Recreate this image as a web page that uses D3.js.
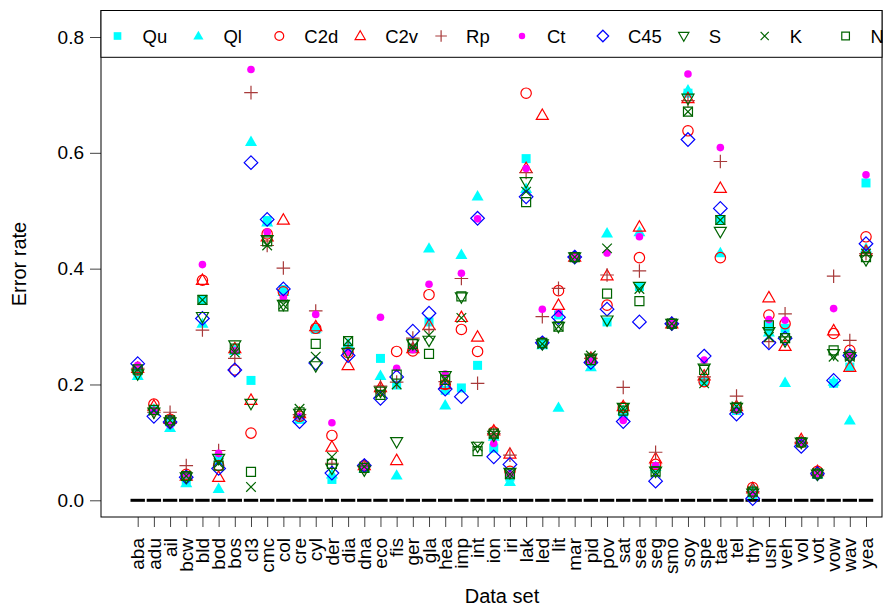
<!DOCTYPE html>
<html>
<head>
<meta charset="utf-8">
<script src="https://cdn.jsdelivr.net/npm/d3@7"></script>
<style>
  body { margin: 0; background: #fff; }
  text { font-family: "Liberation Sans", Arial, Helvetica, sans-serif; }
</style>
</head>
<body>
<div id="chart"></div>
<script>
var svgWidth = 894;
var svgHeight = 607;

// data sets on the x axis
var dataSets = ["aba","adu","ail","bcw","bld","bod","bos","cl3","cmc","col","cre","cyl","der","dia","dna",
  "eco","fis","ger","gla","hea","imp","int","ion","iri","lak","led","lit","mar","pid","pov","sat","sea",
  "seg","smo","soy","spe","tae","tel","thy","usn","veh","vol","vot","vow","wav","yea"];

var yTicks = [0.0, 0.2, 0.4, 0.6, 0.8];

// error rates, one array per method (same order as dataSets)
var Qu  = [.222,.155,.135,.035,.345,.070,.260,.207,.483,.364,.140,.295,.036,.262,.057,.245,.199,.262,.308,.190,.194,.233,.090,.040,.590,.270,.320,.420,.240,.308,.150,.369,.055,.305,.703,.205,.484,.155,.010,.300,.297,.100,.046,.202,.230,.548];
var Ql  = [.215,.157,.125,.030,.305,.020,.258,.619,.480,.360,.140,.297,.045,.270,.055,.215,.043,.265,.435,.164,.424,.525,.110,.032,.538,.268,.160,.420,.230,.461,.155,.463,.058,.305,.708,.210,.427,.158,.022,.290,.203,.100,.045,.205,.138,.435];
var C2d = [.225,.166,.140,.045,.380,.060,.225,.116,.460,.360,.145,.297,.112,.255,.060,.190,.257,.258,.355,.200,.295,.257,.118,.050,.703,.272,.362,.420,.245,.337,.160,.419,.062,.305,.638,.205,.419,.160,.022,.320,.305,.100,.050,.288,.259,.455];
var C2v = [.228,.163,.140,.042,.380,.040,.262,.173,.455,.484,.150,.300,.092,.233,.060,.195,.069,.262,.302,.200,.316,.282,.120,.080,.573,.665,.337,.420,.245,.388,.162,.472,.072,.305,.694,.215,.539,.162,.020,.350,.266,.105,.050,.293,.230,.430];
var Rp  = [.228,.152,.152,.060,.294,.086,.245,.704,.440,.401,.148,.327,.064,.262,.058,.197,.204,.280,.295,.205,.383,.202,.115,.078,.566,.317,.366,.420,.245,.389,.195,.396,.083,.305,.690,.213,.585,.180,.015,.274,.322,.100,.048,.387,.276,.426];
var Ct  = [.233,.155,.130,.045,.407,.081,.258,.744,.463,.350,.145,.321,.134,.255,.058,.316,.228,.260,.373,.218,.392,.486,.098,.045,.573,.330,.323,.420,.240,.427,.138,.455,.060,.305,.736,.242,.609,.155,.010,.312,.311,.100,.046,.331,.250,.562];
var C45 = [.236,.145,.135,.040,.314,.055,.225,.583,.485,.365,.136,.237,.047,.250,.060,.176,.213,.292,.323,.192,.179,.487,.075,.062,.524,.272,.316,.420,.238,.330,.136,.308,.033,.305,.623,.249,.504,.149,.003,.272,.280,.093,.046,.207,.250,.443];
var S   = [.218,.152,.135,.040,.317,.072,.268,.167,.450,.338,.150,.232,.055,.255,.052,.188,.101,.270,.276,.215,.351,.093,.112,.048,.550,.270,.300,.420,.245,.311,.160,.369,.050,.305,.694,.228,.464,.160,.012,.291,.275,.100,.045,.253,.248,.415];
var K   = [.226,.155,.138,.042,.346,.064,.255,.023,.440,.338,.158,.248,.075,.275,.058,.185,.200,.265,.285,.210,.315,.093,.115,.045,.533,.270,.300,.420,.250,.435,.158,.365,.048,.305,.671,.202,.484,.162,.015,.282,.280,.100,.047,.248,.248,.426];
var N   = [.226,.156,.138,.042,.346,.060,.262,.049,.447,.335,.152,.270,.063,.275,.056,.182,.217,.270,.253,.208,.352,.085,.115,.045,.515,.272,.300,.420,.242,.357,.155,.344,.050,.305,.671,.225,.484,.160,.015,.302,.280,.100,.046,.259,.250,.420];

var methodNames = ["Qu","Ql","C2d","C2v","Rp","Ct","C45","S","K","N"];
var methodValues = [Qu, Ql, C2d, C2v, Rp, Ct, C45, S, K, N];

// marker style for each method (R pch look-alikes)
var styles = {
  Qu:  {shape: "square",   color: "#00ffff", fill: true},
  Ql:  {shape: "triangle", color: "#00ffff", fill: true},
  C2d: {shape: "circle",   color: "#ff0000", fill: false},
  C2v: {shape: "triangle", color: "#ff0000", fill: false},
  Rp:  {shape: "plus",     color: "#a83a3a", fill: false},
  Ct:  {shape: "dot",      color: "#ff00ff", fill: true},
  C45: {shape: "diamond",  color: "#0000ff", fill: false},
  S:   {shape: "invtri",   color: "#006400", fill: false},
  K:   {shape: "cross",    color: "#006400", fill: false},
  N:   {shape: "square",   color: "#006400", fill: false}
};

function shapePath(shape, s) {
  // s = scale factor
  if (shape == "square") {
    var h = 4.5 * s;
    return `M${-h},${-h}H${h}V${h}H${-h}Z`;
  }
  if (shape == "triangle") {
    var w = 6 * s;
    return `M0,${-6.2*s}L${w},${4.2*s}L${-w},${4.2*s}Z`;
  }
  if (shape == "invtri") {
    var w = 6 * s;
    return `M0,${6.2*s}L${w},${-4.2*s}L${-w},${-4.2*s}Z`;
  }
  if (shape == "circle") {
    var r = 5.2 * s;
    return `M${r},0A${r},${r} 0 1,1 ${-r},0A${r},${r} 0 1,1 ${r},0Z`;
  }
  if (shape == "dot") {
    var r = 3.8 * s;
    return `M${r},0A${r},${r} 0 1,1 ${-r},0A${r},${r} 0 1,1 ${r},0Z`;
  }
  if (shape == "diamond") {
    var d = 6.8 * s;
    return `M0,${-d}L${d},0L0,${d}L${-d},0Z`;
  }
  if (shape == "plus") {
    var a = 6.8 * s;
    return `M${-a},0H${a}M0,${-a}V${a}`;
  }
  if (shape == "cross") {
    var a = 4.8 * s;
    return `M${-a},${-a}L${a},${a}M${-a},${a}L${a},${-a}`;
  }
}

var svg = d3.select("#chart")
  .append("svg")
  .attr("width", svgWidth)
  .attr("height", svgHeight);

var box = {left: 101, right: 882, top: 10.5, bottom: 517};

var xScale = d3.scalePoint()
  .domain(dataSets)
  .range([137.7, 866]);

var yScale = d3.scaleLinear()
  .domain([0, 0.8])
  .range([500.3, 37]);

// y axis (R style: ticks outside, labels horizontal)
var yAxis = d3.axisLeft(yScale)
  .tickValues(yTicks)
  .tickFormat(d3.format(".1f"))
  .tickSize(11)
  .tickPadding(6);

svg.append("g")
  .attr("transform", `translate(${box.left}, 0)`)
  .call(yAxis)
  .call(g => g.select(".domain").remove())
  .call(g => g.selectAll("line").attr("stroke", "#444"))
  .call(g => g.selectAll("text").attr("font-size", 19).attr("fill", "#000")
    .attr("font-family", "Liberation Sans, Arial, sans-serif"));

// x axis, labels rotated
var xAxis = d3.axisBottom(xScale)
  .tickSize(10)
  .tickPadding(0);

var xg = svg.append("g")
  .attr("transform", `translate(0, ${box.bottom})`)
  .call(xAxis)
  .call(g => g.select(".domain").remove())
  .call(g => g.selectAll("line").attr("stroke", "#444"));

xg.selectAll("text")
  .attr("font-size", 19)
  .attr("fill", "#000")
  .attr("font-family", "Liberation Sans, Arial, sans-serif")
  .attr("text-anchor", "end")
  .attr("dy", "0.35em")
  .attr("y", 0)
  .attr("transform", d => `translate(${-0.5}, 21) rotate(-90)`);

// zero reference dashes, one per data set
svg.append("g")
  .selectAll("line")
  .data(dataSets)
  .enter()
  .append("line")
  .attr("x1", d => xScale(d) - 7.2)
  .attr("x2", d => xScale(d) + 7.2)
  .attr("y1", yScale(0))
  .attr("y2", yScale(0))
  .attr("stroke", "#000")
  .attr("stroke-width", 3);

// the points, one group per method
methodNames.forEach(function(name, i) {
  var st = styles[name];
  var vals = methodValues[i];
  svg.append("g")
    .attr("class", "series-" + name)
    .selectAll("path")
    .data(dataSets)
    .enter()
    .append("path")
    .attr("transform", (d, j) => `translate(${xScale(d)}, ${yScale(vals[j])})`)
    .attr("d", shapePath(st.shape, 1))
    .attr("fill", st.fill ? st.color : "none")
    .attr("stroke", st.fill ? "none" : st.color)
    .attr("stroke-width", 1.2);
});

// plot box
svg.append("rect")
  .attr("x", box.left)
  .attr("y", box.top)
  .attr("width", box.right - box.left)
  .attr("height", box.bottom - box.top)
  .attr("fill", "none")
  .attr("stroke", "#000")
  .attr("stroke-width", 1);

// legend across the top
var legend = svg.append("g");
legend.append("rect")
  .attr("x", box.left)
  .attr("y", box.top)
  .attr("width", box.right - box.left)
  .attr("height", 57.3 - box.top)
  .attr("fill", "#fff")
  .attr("stroke", "#000")
  .attr("stroke-width", 1);

methodNames.forEach(function(name, i) {
  var st = styles[name];
  var mx = 117.5 + i * 80.9;
  legend.append("path")
    .attr("transform", `translate(${mx}, 36)`)
    .attr("d", shapePath(st.shape, 0.85))
    .attr("fill", st.fill ? st.color : "none")
    .attr("stroke", st.fill ? "none" : st.color)
    .attr("stroke-width", 1.2);
  legend.append("text")
    .attr("x", mx + 25)
    .attr("y", 43)
    .attr("font-size", 18.5)
    .text(name);
});

// axis titles
svg.append("text")
  .attr("x", 502)
  .attr("y", 603)
  .attr("text-anchor", "middle")
  .attr("font-size", 20)
  .text("Data set");

svg.append("text")
  .attr("transform", "rotate(-90)")
  .attr("x", -264)
  .attr("y", 26)
  .attr("text-anchor", "middle")
  .attr("font-size", 20)
  .text("Error rate");
</script>
</body>
</html>
